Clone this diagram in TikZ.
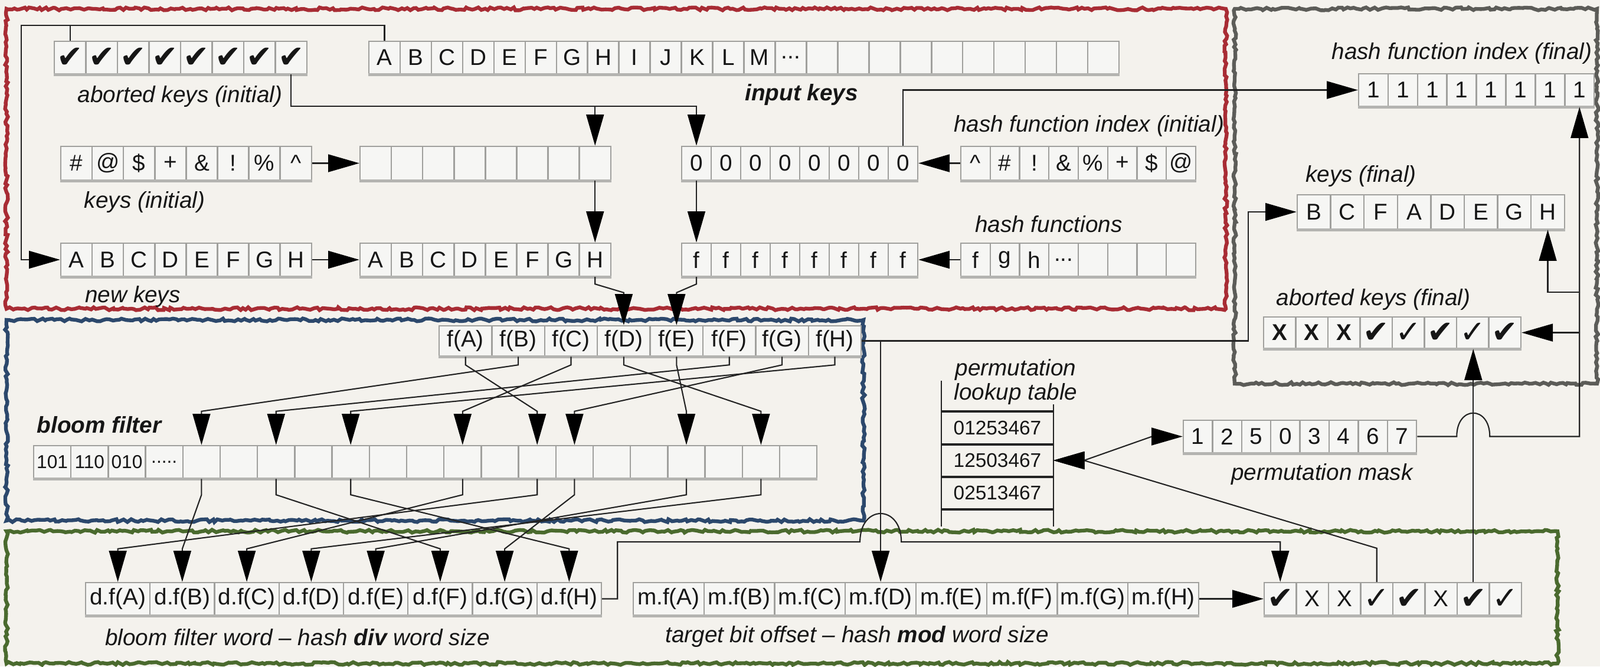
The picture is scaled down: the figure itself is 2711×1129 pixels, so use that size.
\documentclass[tikz,border=0pt]{standalone}
\usepackage{fontspec}
\setmainfont{Liberation Sans}
\newfontfamily\chkfont{DejaVu Sans}
\usetikzlibrary{arrows.meta,calc,decorations.pathmorphing}
\definecolor{bg}{RGB}{244,242,237}
\definecolor{redb}{RGB}{168,44,52}
\definecolor{blueb}{RGB}{44,72,108}
\definecolor{greenb}{RGB}{74,106,46}
\definecolor{grayb}{RGB}{92,92,88}
\definecolor{cellfill}{RGB}{246,246,244}
\definecolor{cellline}{RGB}{160,160,157}
\definecolor{shadowc}{RGB}{180,180,177}
\definecolor{linec}{RGB}{35,35,35}
\definecolor{txt}{RGB}{22,22,22}
\newcommand\hc{{\chkfont\fontsize{15}{15}\selectfont ✔}}
\newcommand\lc{{\chkfont\fontsize{15}{15}\selectfont ✓}}
\newcommand\mydots{...}
\newcommand\fivedots{.....}
\newcommand\mkrow[7]{%
  \foreach \c [count=\i] in {#7} {
    \node[cell, minimum width=#4*0.01cm, minimum height=#5*0.01cm, #6] (#1-\i) at ({#2+(\i-0.5)*#4},{#3+#5/2}) {\c};
    \draw[shadowc, line width=1.3pt] (#1-\i.south west) -- (#1-\i.south east);
  }
}
\begin{document}
\begin{tikzpicture}[x=0.01cm,y=-0.01cm,
  cell/.style={draw=cellline, fill=cellfill, line width=0.7pt, inner sep=0pt, font=\fontsize{11}{13}\selectfont, text=txt},
  lbl/.style={inner sep=0pt, font=\fontsize{11}{13}\selectfont\itshape, text=txt},
  blbl/.style={inner sep=0pt, font=\fontsize{11}{13}\selectfont\bfseries\itshape, text=txt},
  tip/.tip={Triangle[length=15pt,width=8.5pt,color=black]},
  arr/.style={-tip, line width=0.6pt, draw=linec},
  darr/.style={tip-tip, line width=0.6pt, draw=linec},
  plain/.style={line width=0.6pt, draw=linec},
  roughbox/.style={decorate, decoration={random steps, segment length=1.5pt, amplitude=0.7pt}, line width=1.8pt}]
\useasboundingbox (0,0) rectangle (2711,1129);
\fill[bg] (0,0) rectangle (2711,1129);

% frames
\draw[roughbox, draw=redb] (11,15) rectangle (2077,523);
\draw[roughbox, draw=grayb] (2092,15) rectangle (2706,650);
\draw[roughbox, draw=blueb] (11,542) rectangle (1463,882);
\draw[roughbox, draw=greenb] (11,900) rectangle (2639,1124);

% rows
\mkrow{chkI}{92}{70}{53.5}{55}{}{\hc,\hc,\hc,\hc,\hc,\hc,\hc,\hc}
\mkrow{inp}{625}{70}{52.96}{55}{}{A,B,C,D,E,F,G,H,I,J,K,L,M,\mydots,{},{},{},{},{},{},{},{},{},{}}
\mkrow{keysI}{103}{248}{53.1}{57}{}{\#,@,\$,+,\&,!,\%,\textasciicircum}
\mkrow{emp}{610}{248}{53.1}{57}{}{{},{},{},{},{},{},{},{}}
\mkrow{zero}{1155}{248}{50}{57}{}{0,0,0,0,0,0,0,0}
\mkrow{hfI}{1628}{248}{49.75}{57}{}{\textasciicircum,\#,!,\&,\%,+,\$,@}
\mkrow{newk}{103}{412}{53.1}{56}{}{A,B,C,D,E,F,G,H}
\mkrow{keysB}{610}{412}{53.1}{56}{}{A,B,C,D,E,F,G,H}
\mkrow{fr}{1155}{412}{50}{56}{}{f,f,f,f,f,f,f,f}
\mkrow{hf}{1628}{412}{49.75}{56}{}{f,g,h,\mydots,{},{},{},{}}
\mkrow{hfF}{2302}{125}{49.9}{55}{}{1,1,1,1,1,1,1,1}
\mkrow{kF}{2198}{330}{56.6}{58}{}{B,C,F,A,D,E,G,H}
\mkrow{abF}{2141}{537}{54.5}{53}{}{\textbf{X},\textbf{X},\textbf{X},\hc,\lc,\hc,\lc,\hc}
\mkrow{fx}{744}{552}{89.4}{51}{}{f(A),f(B),f(C),f(D),f(E),f(F),f(G),f(H)}
\mkrow{bl}{57}{755}{63.2}{55}{font=\fontsize{9}{10}\selectfont}{101,110,010,\fivedots,{},{},{},{},{},{},{},{},{},{},{},{},{},{},{},{},{}}
\mkrow{df}{145}{987}{109.25}{55}{}{d.f(A),d.f(B),d.f(C),d.f(D),d.f(E),d.f(F),d.f(G),d.f(H)}
\mkrow{mf}{1073}{987}{119.75}{55}{}{m.f(A),m.f(B),m.f(C),m.f(D),m.f(E),m.f(F),m.f(G),m.f(H)}
\mkrow{chkB}{2142}{987}{54.5}{55}{}{\hc,X,X,\lc,\hc,X,\hc,\lc}
\mkrow{pm}{2005}{712}{49.4}{55}{}{1,2,5,0,3,4,6,7}

% lookup table
\foreach \t [count=\i] in {01253467,12503467,02513467}
  \node[inner sep=0pt, minimum width=1.88cm, minimum height=0.55cm, font=\fontsize{9.5}{10}\selectfont, text=txt] (lt\i) at (1690,{725+(\i-1)*55}) {\t};
\draw[plain] (lt1.west |- 0,645) -- (lt3.west |- 0,892);
\draw[plain] (lt1.east |- 0,685) -- (lt3.east |- 0,892);
\draw[linec, line width=1.1pt] (lt1.north west) -- (lt1.north east);
\draw[linec, line width=1.1pt] (lt1.south west) -- (lt1.south east);
\draw[linec, line width=1.1pt] (lt2.south west) -- (lt2.south east);
\draw[linec, line width=1.1pt] (lt3.south west) -- (lt3.south east);

% labels
\node[lbl] (l1) at (305,163) {aborted keys (initial)};
\node[blbl] (l2) at (1358,160) {input keys};
\node[lbl] (l3) at (245,342) {keys (initial)};
\node[lbl] (l4) at (225,502) {new keys};
\node[lbl] (l5) at (1845,213) {hash function index (initial)};
\node[lbl] (l6) at (1777,380) {hash functions};
\node[lbl] (l7) at (2477,90) {hash function index (final)};
\node[lbl] (l8) at (2306,298) {keys (final)};
\node[lbl] (l9) at (2327,507) {aborted keys (final)};
\node[blbl] (l10) at (168,720) {bloom filter};
\node[lbl, align=center, font=\fontsize{11}{11.6}\selectfont\itshape] (l11) at (1721,647) {permutation\\lookup table};
\node[lbl] (l12) at (2240,803) {permutation mask};
\node[lbl] (l13) at (504,1080) {bloom filter word -- hash \textbf{div} word size};
\node[lbl] (l14) at (1452,1078) {target bit offset -- hash \textbf{mod} word size};

% helper coordinates
\coordinate (tl) at (36,43);
\coordinate (r180) at (0,180);
\coordinate (hopy) at (0,918);
\coordinate (kbend) at (2115,0);
\coordinate (y495) at (0,495);

% top section connectors
\draw[arr] (inp-1.north) |- (tl) |- (newk-1.west);
\draw[plain] (chkI-1.north) -- (chkI-1.north |- tl);
\draw[arr] (chkI-8.south) |- (zero-1.north |- r180) -- (zero-1.north);
\draw[arr] (emp-8.north |- r180) -- (emp-8.north);
\draw[arr] (keysI-8.east) -- (emp-1.west);
\draw[arr] (emp-8.south) -- (keysB-8.north);
\draw[arr] (newk-8.east) -- (keysB-1.west);
\draw[arr] (hfI-1.west) -- (zero-8.east);
\draw[arr] (zero-1.south) -- (fr-1.north);
\draw[arr] (hf-1.west) -- (fr-8.east);
\draw[arr] (zero-8.north) |- (hfF-1.west);
\draw[arr] (keysB-8.south) -- ++(0,12) -- ($(fx-4.north)+(0,-55)$) -- (fx-4.north);
\draw[arr] (fr-1.south) -- ++(0,12) -- ($(fx-5.north)+(0,-55)$) -- (fx-5.north);

% f -> bloom filter
\foreach \a/\b in {1/14,2/5,3/12,4/20,5/18,6/7,7/15,8/9}
  \draw[arr] (fx-\a.south) -- ++(0,14) -- ($(bl-\b.north)+(0,-57)$) -- (bl-\b.north);
% bloom filter -> d.f
\foreach \a/\b in {5/2,7/6,9/8,12/3,14/1,15/7,18/5,20/4}
  \draw[arr] (bl-\a.south) -- ++(0,27) -- ($(df-\b.north)+(0,-56)$) -- (df-\b.north);

% f(H) -> m.f(D) and keys (final)
\draw[arr] (fx-8.east) -- (mf-4.north |- fx-8.east) -- (mf-4.north);
\draw[arr] (fx-8.east) -| (kbend |- kF-1.west) -- (kF-1.west);

% d.f(H) -> result checks (with hop)
\draw[arr] (df-8.east) -- ++(26,0) |- ($(mf-4.north |- hopy)+(-35,0)$)
  .. controls +(0,-64) and +(0,-64) .. ($(mf-4.north |- hopy)+(35,0)$) -| (chkB-1.north);
\draw[arr] (mf-8.east) -- (chkB-1.west);

% result checks -> lookup table, mask
\draw[arr] (chkB-4.north) -- ++(0,-57) -- ($(lt2.east)+(52,0)$) -- (lt2.east);
\draw[darr] (lt2.east) -- ++(52,0) -- ($(pm-1.west)+(-52,0)$) -- (pm-1.west);
\draw[arr] (chkB-7.north) -- (chkB-7.north |- abF-7.south);

% mask -> finals (with hop)
\draw[arr] (pm-8.east) -- ($(chkB-7.north |- pm-8.east)+(-28,0)$)
  .. controls +(0,-53) and +(0,-53) .. ($(chkB-7.north |- pm-8.east)+(28,0)$) -| (hfF-8.south);
\draw[arr] (hfF-8.south |- abF-8.east) -- (abF-8.east);
\draw[arr] (hfF-8.south |- y495) -| (kF-8.south);
\end{tikzpicture}
\end{document}
